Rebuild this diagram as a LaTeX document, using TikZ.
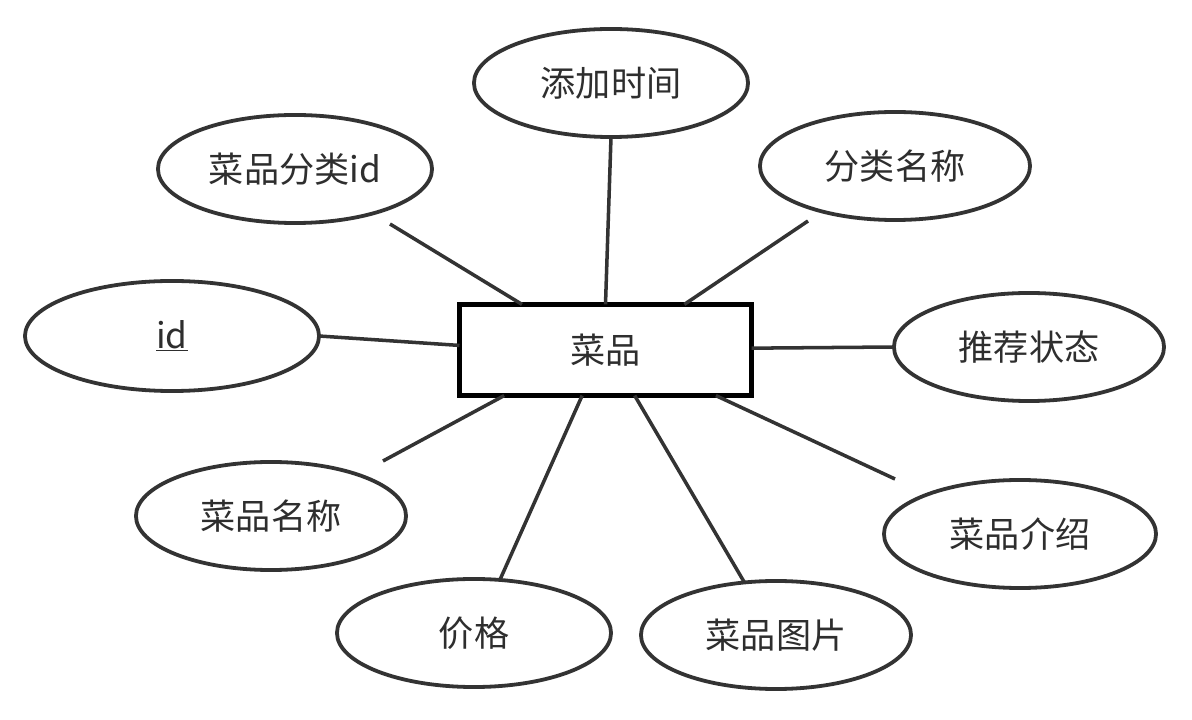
\documentclass[tikz,border=0pt]{standalone}
\usepackage{fontspec}
\newfontfamily\cjk{Noto Sans CJK SC}
\usetikzlibrary{shapes.geometric,calc}
\definecolor{ink}{HTML}{333333}
\definecolor{txt}{HTML}{2E2E2E}
\begin{document}
\begin{tikzpicture}[x=0.025cm,y=-0.025cm,
  attr/.style={ellipse, draw=ink, line width=2.7pt, inner sep=0pt, outer sep=0pt,
    minimum width=6.85cm, minimum height=2.7cm, text=txt,
    font=\cjk\fontsize{25}{30}\selectfont},
  entity/.style={rectangle, draw=black, line width=3.6pt, inner sep=0pt, outer sep=0pt,
    minimum width=7.3cm, minimum height=2.28cm, text=txt,
    font=\cjk\fontsize{25}{30}\selectfont},
  link/.style={draw=ink, line width=2.5pt}]
\useasboundingbox (0,0) rectangle (1192,720);
\fill[white] (0,0) rectangle (1192,720);

\node[entity] (r) at (605.5,350) {菜品};

\node[attr] (t) at (611,83) {添加时间};
\node[attr] (cid) at (295,169) {菜品分类id};
\node[attr, minimum width=6.75cm] (cname) at (895,166) {分类名称};
\node[attr, minimum width=7.35cm, minimum height=2.75cm] (id) at (172,336) {\underline{id}};
\node[attr, minimum width=6.75cm] (rec) at (1029,347) {推荐状态};
\node[attr, minimum width=6.75cm] (name) at (271,516) {菜品名称};
\node[attr, minimum width=6.8cm] (intro) at (1020,534) {菜品介绍};
\node[attr] (price) at (474,633) {价格};
\node[attr, minimum width=6.75cm] (pic) at (776,635) {菜品图片};

\coordinate (c1) at (390,224);
\coordinate (c3) at (808,221);
\coordinate (c6) at (383,461);
\coordinate (c9) at (895,479);

\draw[link] (c1) -- ($(r.north west)!0.214!(r.north east)$);
\draw[link] (t.south) -- ($(r.north west)!0.50!(r.north east)$);
\draw[link] (c3) -- ($(r.north west)!0.77!(r.north east)$);
\draw[link] (id.east) -- ($(r.north west)!0.45!(r.south west)$);
\draw[link] ($(r.north east)!0.48!(r.south east)$) -- (rec.west);
\draw[link] (c6) -- ($(r.south west)!0.153!(r.south east)$);
\draw[link] (price.64) -- ($(r.south west)!0.42!(r.south east)$);
\draw[link] (pic.121) -- ($(r.south west)!0.60!(r.south east)$);
\draw[link] (c9) -- ($(r.south west)!0.878!(r.south east)$);
\end{tikzpicture}
\end{document}
